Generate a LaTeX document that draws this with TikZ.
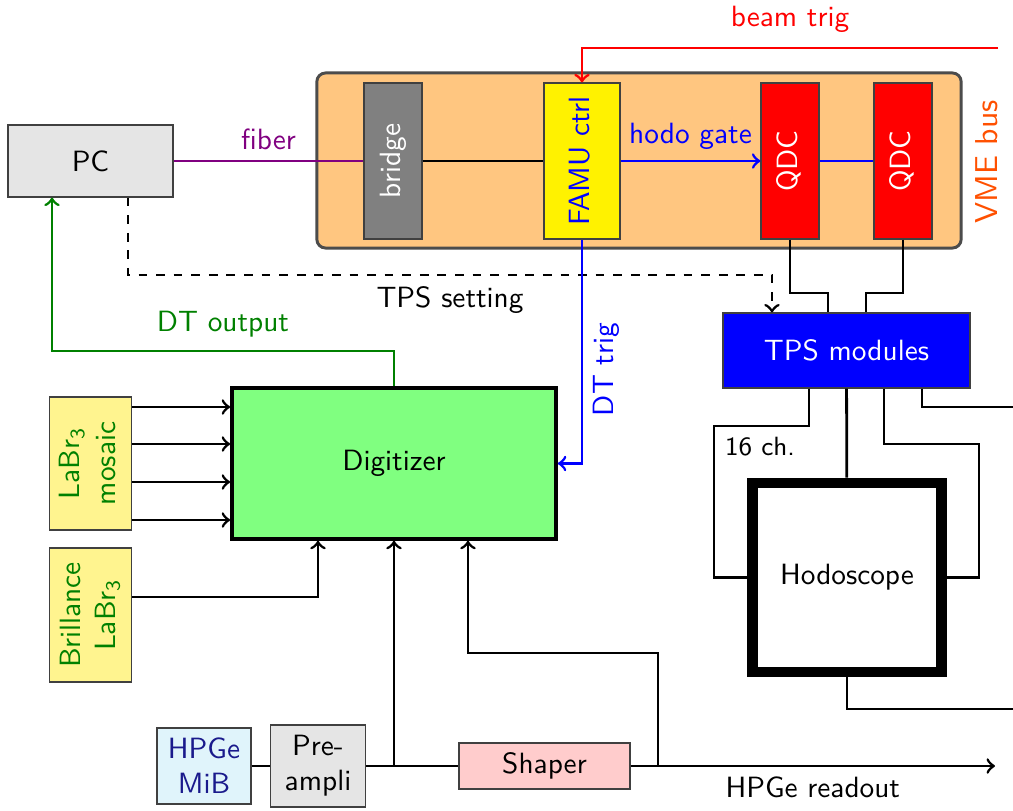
\documentclass[tikz,border=0pt]{standalone}
\usepackage{xcolor}
\usepackage{graphicx}
\usepackage{tikz}
\usetikzlibrary{positioning}
\renewcommand{\familydefault}{\sfdefault}
\definecolor{vmefill}{HTML}{FFC680}
\definecolor{vmetxt}{HTML}{FF5000}
\definecolor{famuyel}{HTML}{FFF200}
\definecolor{labryel}{HTML}{FFF48F}
\definecolor{hpgefill}{HTML}{E0F4FB}
\definecolor{hpgetxt}{HTML}{1A1A8C}
\definecolor{dtgreen}{HTML}{008000}
\definecolor{digifill}{HTML}{80FF80}
\definecolor{shapfill}{HTML}{FFCCCC}
\definecolor{fibpurple}{HTML}{800080}
\newcommand{\vtext}[1]{\rotatebox{90}{\begin{tabular}{@{}c@{}}#1\end{tabular}}}
\tikzset{
  blk/.style={rectangle, draw=black!75, thin, align=center, inner sep=2pt},
  vmod/.style={blk, minimum width=0.696cm, minimum height=1.872cm},
  labr/.style={blk, fill=labryel, text=dtgreen},
  conn/.style={line width=0.95pt},
  arr/.style={->, line width=0.95pt},
}
\begin{document}
\begin{tikzpicture}[x=0.012cm, y=-0.012cm]
\useasboundingbox (0,0) rectangle (1013,810);
% VME crate
\node[rectangle, rounded corners=3pt, draw=black!70, line width=1pt, fill=vmefill, minimum width=7.728cm, minimum height=2.1cm] (vme) at (639,160.5) {};
\node[rotate=90, text=vmetxt, scale=1.08] (vmel) at (987,162) {VME bus};
\node[vmod, fill=gray, text=white] (bridge) at (393,161) {\vtext{bridge}};
\node[vmod, fill=famuyel, text=blue, minimum width=0.912cm] (famu) at (582,161) {\vtext{FAMU ctrl}};
\node[vmod, fill=red, text=white] (qdc1) at (790,161) {\vtext{QDC}};
\node[vmod, fill=red, text=white] (qdc2) at (903,161) {\vtext{QDC}};
% other modules
\node[blk, fill=gray!20, minimum width=1.98cm, minimum height=0.864cm] (pc) at (90.5,161) {PC};
\node[blk, fill=blue, text=white, minimum width=2.964cm, minimum height=0.9cm] (tps) at (846.5,350.5) {TPS modules};
\node[rectangle, draw, line width=3.7pt, fill=white, minimum size=2.268cm] (hodo) at (847,577.5) {Hodoscope};
\node[rectangle, draw, line width=1.2pt, fill=digifill, minimum width=3.888cm, minimum height=1.812cm] (digi) at (394,463.5) {Digitizer};
\node[labr, minimum width=0.912cm, minimum height=1.596cm] (mosaic) at (90.5,463.5) {\vtext{LaBr\textsubscript{3}\\mosaic}};
\node[labr, minimum width=0.972cm, minimum height=1.608cm] (brill) at (90.8,615) {\vtext{Brillance\\LaBr\textsubscript{3}}};
\node[blk, fill=hpgefill, text=hpgetxt, minimum width=1.128cm, minimum height=0.912cm] (hpge) at (204,766) {HPGe\\MiB};
\node[blk, fill=gray!20, minimum width=1.14cm, minimum height=0.984cm] (pre) at (318,766) {Pre-\\ampli};
\node[blk, fill=shapfill, minimum width=2.052cm, minimum height=0.552cm] (shaper) at (544.5,766) {Shaper};
\coordinate (bt) at (998,48);
\coordinate (e1) at (1013,407);
\coordinate (e2) at (1013,709);
\coordinate (out) at (995,766);
% connections
\draw[arr, dashed] (pc.south -| 128,0) |- (772,275) node[pos=.75, below] {TPS setting} -- (tps.north -| 772,0);
\draw[conn, fibpurple] (pc) -- (bridge) node[midway, above] {fiber};
\draw[conn] (bridge) -- (famu);
\draw[arr, blue] (famu) -- (qdc1) node[midway, above] {hodo gate};
\draw[conn, blue] (qdc1) -- (qdc2);
\draw[arr, red] (bt) -| (famu.north) node[pos=.25, above=1.5pt] {beam trig};
\draw[arr, blue] (famu.south) |- (digi.east) node[pos=.29, rotate=90, anchor=north] {DT trig};
\draw[conn] (qdc1.south) |- (828,293) -- (tps.north -| 828,0);
\draw[conn] (qdc2.south) |- (866,293) -- (tps.north -| 866,0);
\draw[arr, dtgreen] (digi.north) |- (52,351) node[pos=.75, above=1pt] {DT output} -- (pc.south -| 52,0);
% TPS to hodoscope
\draw[conn] (tps.south -| 809,0) |- (714,426) node[below right, font=\small] {16 ch.} |- (hodo.west);
\draw[conn] (tps) -- (hodo);
\draw[conn] (tps.south -| 884,0) |- (979,444) |- (hodo.east);
\draw[conn] (tps.south -| 922,0) |- (e1);
\draw[conn] (hodo.south) |- (e2);
% detectors to digitizer
\foreach \y in {407,444,482,520} \draw[arr] (mosaic.east |- 0,\y) -- (digi.west |- 0,\y);
\draw[arr] (brill.east |- 0,597) -| (digi.south -| 318,0);
\draw[conn] (hpge) -- (pre);\draw[conn] (pre) -- (shaper);
\draw[arr] (shaper) -- (out) node[midway, below] {HPGe readout};
\draw[arr] (digi.south |- 0,766) -- (digi.south);
\draw[arr] (658,766) |- (468,653) -- (digi.south -| 468,0);
\end{tikzpicture}
\end{document}
